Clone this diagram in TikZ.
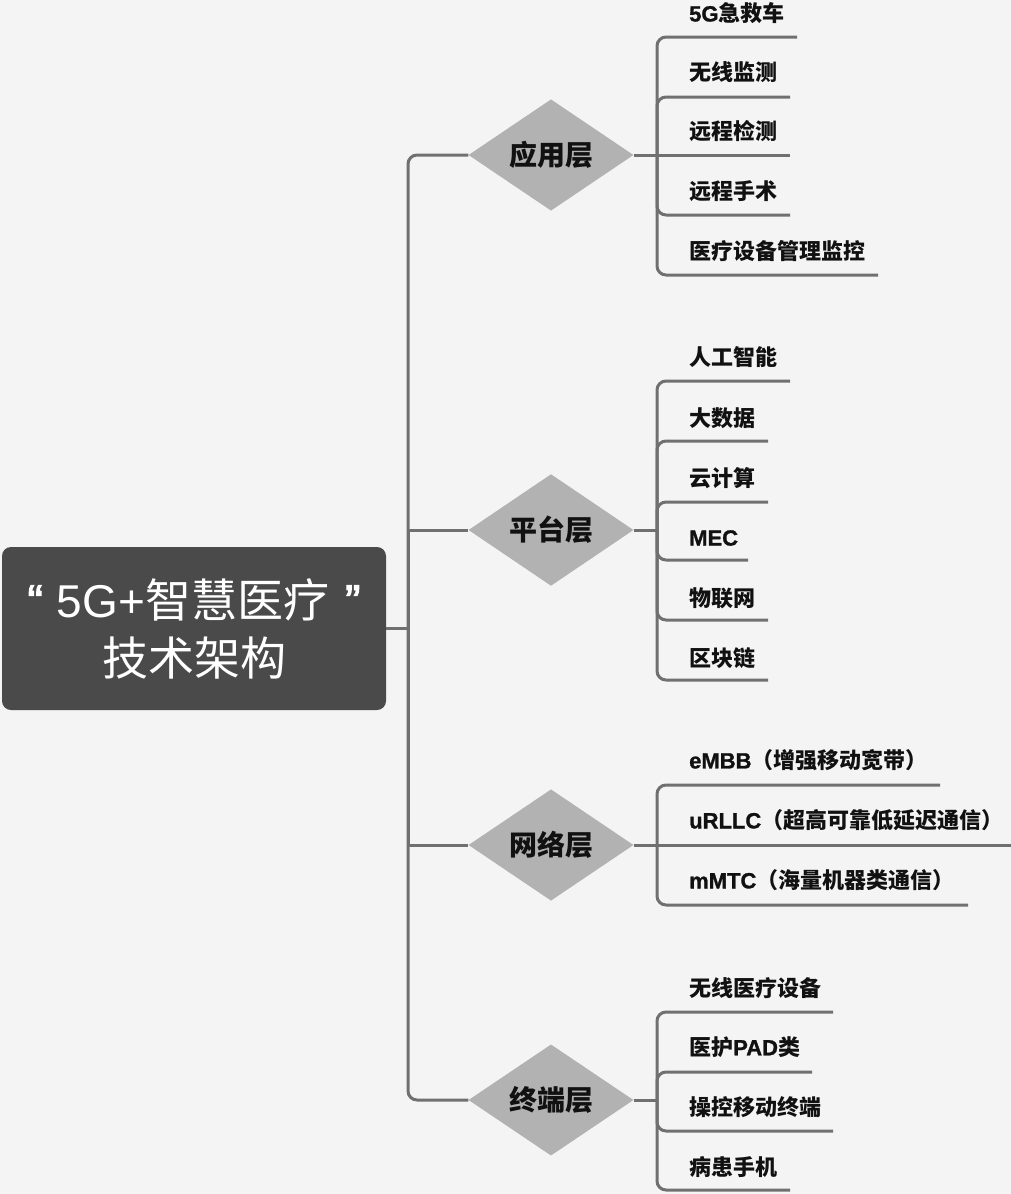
\documentclass[tikz,border=0pt]{standalone}
\usepackage{fontspec}
\setmainfont{Noto Sans CJK SC}
\newfontfamily\leaffont{Noto Sans CJK SC}
\newfontfamily\latinreg{Liberation Sans}
\newfontfamily\latinmed[FakeBold=1.2]{Liberation Sans}
\newfontfamily\quotefont[FakeBold=2.5]{Liberation Sans}
\newcommand{\lt}[1]{{\latinmed #1}}
\usetikzlibrary{shapes.geometric}
\definecolor{bgc}{HTML}{F4F4F4}
\definecolor{linec}{HTML}{707070}
\definecolor{diaf}{HTML}{B2B2B2}
\definecolor{rootf}{HTML}{4A4A4A}
\definecolor{txt}{HTML}{111111}
\begin{document}
\begin{tikzpicture}[x=1pt,y=-1pt,
  conn/.style={draw=linec, line width=3pt},
  rconn/.style={conn, rounded corners=9pt},
  layer/.style={diamond, fill=diaf, minimum width=165pt, minimum height=102pt, inner sep=0pt, text=txt, font={\leaffont\bfseries\fontsize{28}{30}\selectfont}},
  leaf/.style={anchor=west, inner sep=0pt, text=txt, font={\leaffont\bfseries\fontsize{22}{24}\selectfont}}]
\fill[bgc] (0,0) rectangle (1011,1194);
\useasboundingbox (0,0) rectangle (1011,1194);

% root
\node[rectangle, rounded corners=9pt, fill=rootf, minimum width=384pt, minimum height=163pt, inner sep=0pt, text=white, align=center, font={\fontsize{46}{58}\selectfont}] (root) at (194,628.5)
  {{\quotefont “}\hspace{14pt}{\latinreg 5G+}智慧医疗\hspace{16pt}{\quotefont ”}\\技术架构};

% layers
\node[layer] (d1) at (551,155) {应用层};
\node[layer] (d2) at (551,530) {平台层};
\node[layer] (d3) at (551,845) {网络层};
\node[layer] (d4) at (551,1100) {终端层};

% root connectors
\coordinate (rj) at (408,628.5);
\draw[conn] (root.east) -- (rj);
\draw[rconn] (rj) |- (d1.west);
\draw[rconn] (rj) |- (d4.west);
\draw[conn] (rj) |- (d2.west);
\draw[conn] (rj) |- (d3.west);

% group 1
\coordinate (j1) at (657,155);
\node[leaf] (a1) at (689,13) {\lt{5G}急救车};
\node[leaf] (a2) at (689,72) {无线监测};
\node[leaf] (a3) at (689,131) {远程检测};
\node[leaf] (a4) at (689,191) {远程手术};
\node[leaf] (a5) at (689,251) {医疗设备管理监控};
\coordinate (ae1) at (797,37);
\coordinate (ae2) at (790,97);
\coordinate (ae3) at (790,155);
\coordinate (ae4) at (790,215);
\coordinate (ae5) at (878,275);
\draw[conn] (d1.east) -- (ae3);
\draw[rconn] (j1) |- (ae1);
\draw[rconn] (j1) |- (ae2);
\draw[rconn] (j1) |- (ae4);
\draw[rconn] (j1) |- (ae5);

% group 2
\coordinate (j2) at (657,530);
\node[leaf] (b1) at (689,357) {人工智能};
\node[leaf] (b2) at (689,418) {大数据};
\node[leaf] (b3) at (689,478) {云计算};
\node[leaf] (b4) at (689,538) {\lt{MEC}};
\node[leaf] (b5) at (689,598) {物联网};
\node[leaf] (b6) at (689,658) {区块链};
\coordinate (be1) at (790,381);
\coordinate (be2) at (768,441);
\coordinate (be3) at (768,502);
\coordinate (be4) at (748,560);
\coordinate (be5) at (768,620);
\coordinate (be6) at (768,680);
\draw[conn] (d2.east) -- (j2);
\draw[rconn] (j2) |- (be1);
\draw[rconn] (j2) |- (be2);
\draw[rconn] (j2) |- (be3);
\draw[rconn] (j2) |- (be4);
\draw[rconn] (j2) |- (be5);
\draw[rconn] (j2) |- (be6);

% group 3
\coordinate (j3) at (657,845);
\node[leaf] (c1) at (689,760) {\lt{eMBB}（增强移动宽带）};
\node[leaf] (c2) at (689,820) {\lt{uRLLC}（超高可靠低延迟通信）};
\node[leaf] (c3) at (689,880) {\lt{mMTC}（海量机器类通信）};
\coordinate (ce1) at (940,785);
\coordinate (ce2) at (1011,845);
\coordinate (ce3) at (968,905);
\draw[conn] (d3.east) -- (ce2);
\draw[rconn] (j3) |- (ce1);
\draw[rconn] (j3) |- (ce3);

% group 4
\coordinate (j4) at (657,1100);
\node[leaf] (f1) at (689,988) {无线医疗设备};
\node[leaf] (f2) at (689,1047) {医护\lt{PAD}类};
\node[leaf] (f3) at (689,1107) {操控移动终端};
\node[leaf] (f4) at (689,1167) {病患手机};
\coordinate (fe1) at (833,1012);
\coordinate (fe2) at (812,1072);
\coordinate (fe3) at (833,1131);
\coordinate (fe4) at (790,1190);
\draw[conn] (d4.east) -- (j4);
\draw[rconn] (j4) |- (fe1);
\draw[rconn] (j4) |- (fe2);
\draw[rconn] (j4) |- (fe3);
\draw[rconn] (j4) |- (fe4);
\end{tikzpicture}
\end{document}
